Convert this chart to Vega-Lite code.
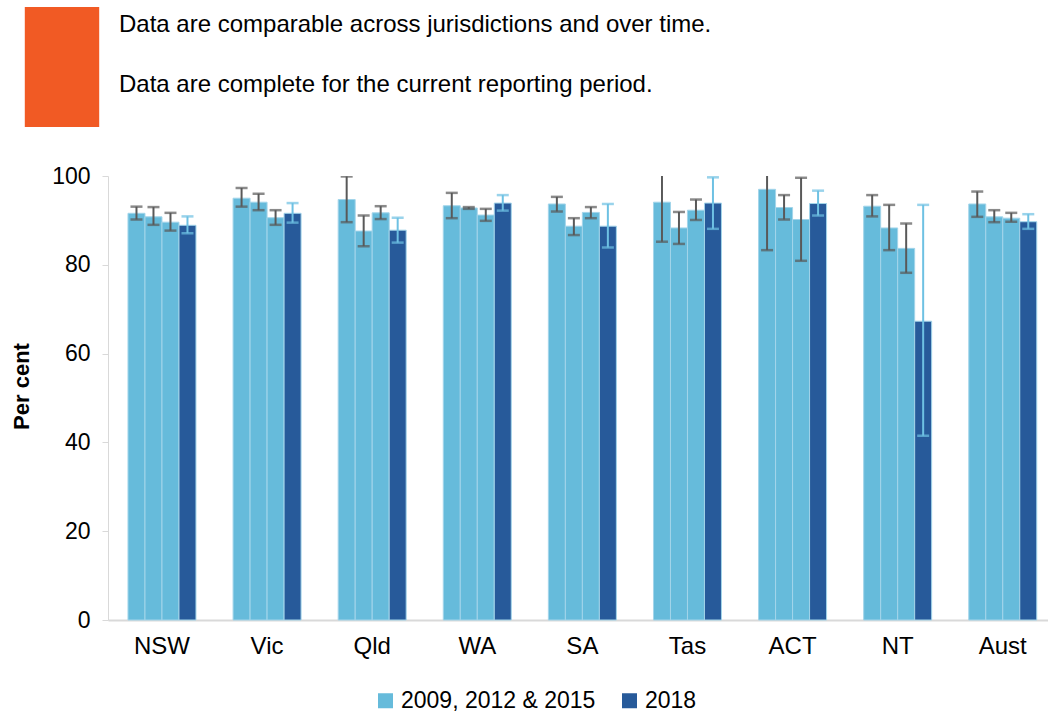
{
  "$schema": "https://vega.github.io/schema/vega-lite/v6.json",
  "autosize": {"type": "none"},
  "width": 940,
  "height": 444,
  "padding": {"left": 108, "top": 176, "right": 0, "bottom": 92},
  "background": "white",
  "config": {"view": {"stroke": null}, "font": "Liberation Sans"},
  "datasets": {
    "results": [
      {"jurisdiction": "NSW", "year": "2009", "series": "2009, 2012 & 2015", "value": 91.6, "lower": 90.2, "upper": 93.1},
      {"jurisdiction": "NSW", "year": "2012", "series": "2009, 2012 & 2015", "value": 90.8, "lower": 89.0, "upper": 93.0},
      {"jurisdiction": "NSW", "year": "2015", "series": "2009, 2012 & 2015", "value": 89.6, "lower": 87.7, "upper": 91.7},
      {"jurisdiction": "NSW", "year": "2018", "series": "2018", "value": 88.9, "lower": 87.1, "upper": 90.9},
      {"jurisdiction": "Vic", "year": "2009", "series": "2009, 2012 & 2015", "value": 95.0, "lower": 93.1, "upper": 97.3},
      {"jurisdiction": "Vic", "year": "2012", "series": "2009, 2012 & 2015", "value": 94.1, "lower": 92.3, "upper": 96.0},
      {"jurisdiction": "Vic", "year": "2015", "series": "2009, 2012 & 2015", "value": 90.6, "lower": 89.0, "upper": 92.3},
      {"jurisdiction": "Vic", "year": "2018", "series": "2018", "value": 91.6, "lower": 89.5, "upper": 93.9},
      {"jurisdiction": "Qld", "year": "2009", "series": "2009, 2012 & 2015", "value": 94.7, "lower": 89.6, "upper": 99.9},
      {"jurisdiction": "Qld", "year": "2012", "series": "2009, 2012 & 2015", "value": 87.6, "lower": 84.2, "upper": 91.1},
      {"jurisdiction": "Qld", "year": "2015", "series": "2009, 2012 & 2015", "value": 91.7, "lower": 90.3, "upper": 93.2},
      {"jurisdiction": "Qld", "year": "2018", "series": "2018", "value": 87.8, "lower": 85.0, "upper": 90.6},
      {"jurisdiction": "WA", "year": "2009", "series": "2009, 2012 & 2015", "value": 93.3, "lower": 90.5, "upper": 96.2},
      {"jurisdiction": "WA", "year": "2012", "series": "2009, 2012 & 2015", "value": 92.8, "lower": 92.6, "upper": 93.0},
      {"jurisdiction": "WA", "year": "2015", "series": "2009, 2012 & 2015", "value": 91.2, "lower": 89.9, "upper": 92.6},
      {"jurisdiction": "WA", "year": "2018", "series": "2018", "value": 93.9, "lower": 92.2, "upper": 95.7},
      {"jurisdiction": "SA", "year": "2009", "series": "2009, 2012 & 2015", "value": 93.7, "lower": 92.0, "upper": 95.3},
      {"jurisdiction": "SA", "year": "2012", "series": "2009, 2012 & 2015", "value": 88.7, "lower": 86.7, "upper": 90.5},
      {"jurisdiction": "SA", "year": "2015", "series": "2009, 2012 & 2015", "value": 91.8, "lower": 90.5, "upper": 93.0},
      {"jurisdiction": "SA", "year": "2018", "series": "2018", "value": 88.7, "lower": 83.9, "upper": 93.7},
      {"jurisdiction": "Tas", "year": "2009", "series": "2009, 2012 & 2015", "value": 94.1, "lower": 85.2, "upper": 103.0},
      {"jurisdiction": "Tas", "year": "2012", "series": "2009, 2012 & 2015", "value": 88.3, "lower": 84.7, "upper": 91.9},
      {"jurisdiction": "Tas", "year": "2015", "series": "2009, 2012 & 2015", "value": 92.3, "lower": 90.1, "upper": 94.7},
      {"jurisdiction": "Tas", "year": "2018", "series": "2018", "value": 93.9, "lower": 88.1, "upper": 99.7},
      {"jurisdiction": "ACT", "year": "2009", "series": "2009, 2012 & 2015", "value": 97.0, "lower": 83.3, "upper": 103.0},
      {"jurisdiction": "ACT", "year": "2012", "series": "2009, 2012 & 2015", "value": 92.9, "lower": 90.2, "upper": 95.7},
      {"jurisdiction": "ACT", "year": "2015", "series": "2009, 2012 & 2015", "value": 90.2, "lower": 80.9, "upper": 99.6},
      {"jurisdiction": "ACT", "year": "2018", "series": "2018", "value": 93.8, "lower": 91.1, "upper": 96.7},
      {"jurisdiction": "NT", "year": "2009", "series": "2009, 2012 & 2015", "value": 93.2, "lower": 90.9, "upper": 95.7},
      {"jurisdiction": "NT", "year": "2012", "series": "2009, 2012 & 2015", "value": 88.3, "lower": 83.3, "upper": 93.5},
      {"jurisdiction": "NT", "year": "2015", "series": "2009, 2012 & 2015", "value": 83.7, "lower": 78.2, "upper": 89.3},
      {"jurisdiction": "NT", "year": "2018", "series": "2018", "value": 67.3, "lower": 41.5, "upper": 93.5},
      {"jurisdiction": "Aust", "year": "2009", "series": "2009, 2012 & 2015", "value": 93.7, "lower": 90.8, "upper": 96.5},
      {"jurisdiction": "Aust", "year": "2012", "series": "2009, 2012 & 2015", "value": 90.8, "lower": 89.6, "upper": 92.3},
      {"jurisdiction": "Aust", "year": "2015", "series": "2009, 2012 & 2015", "value": 90.5, "lower": 89.7, "upper": 91.7},
      {"jurisdiction": "Aust", "year": "2018", "series": "2018", "value": 89.7, "lower": 88.1, "upper": 91.4}
    ],
    "notes": [
      {"note": "Data are comparable across jurisdictions and over time."},
      {"note": "Data are complete for the current reporting period."}
    ]
  },
  "layer": [
    {
      "data": {"name": "results"},
      "mark": {"type": "bar", "stroke": "#a3d5ea", "strokeWidth": 1},
      "encoding": {
        "x": {
          "field": "jurisdiction", "type": "nominal",
          "sort": ["NSW", "Vic", "Qld", "WA", "SA", "Tas", "ACT", "NT", "Aust"],
          "scale": {"paddingInner": 0.353, "paddingOuter": 0.1485, "align": 0.64},
          "axis": {
            "title": null, "labelAngle": 0, "ticks": false, "domainColor": "#d9d9d9", "domainWidth": 2,
            "labelFontSize": 24, "labelColor": "#000000", "labelPadding": 14, "labelFont": "Liberation Sans"
          }
        },
        "xOffset": {"field": "year", "type": "nominal", "sort": ["2009", "2012", "2015", "2018"], "scale": {"paddingInner": 0, "paddingOuter": 0}},
        "y": {
          "field": "value", "type": "quantitative",
          "scale": {"domain": [0, 100], "nice": false},
          "axis": {
            "title": "Per cent", "titleFontSize": 22, "titleFontWeight": "bold", "titleColor": "#000000", "titleFont": "Liberation Sans", "titlePadding": 18, "titleY": 210,
            "values": [0, 20, 40, 60, 80, 100], "grid": false, "domainColor": "#d9d9d9", "tickColor": "#d9d9d9", "tickSize": 6,
            "labelFontSize": 23, "labelColor": "#000000", "labelPadding": 12, "labelFont": "Liberation Sans"
          }
        },
        "color": {
          "field": "series", "type": "nominal",
          "scale": {"domain": ["2009, 2012 & 2015", "2018"], "range": ["#66bbdb", "#275a9a"]},
          "legend": {
            "orient": "none", "legendX": 266, "legendY": 513, "direction": "horizontal", "title": null,
            "symbolType": "square", "symbolSize": 225, "symbolStrokeWidth": 0, "labelFontSize": 23, "labelColor": "#000000",
            "labelOffset": 4, "columnPadding": 22, "labelFont": "Liberation Sans", "labelLimit": 400,
            "encode": {"symbols": {"update": {"strokeWidth": {"value": 0}}}}
          }
        }
      }
    },
    {
      "data": {"name": "results"},
      "mark": {"type": "rule", "strokeWidth": 2, "clip": true},
      "encoding": {
        "x": {"field": "jurisdiction", "type": "nominal", "sort": ["NSW", "Vic", "Qld", "WA", "SA", "Tas", "ACT", "NT", "Aust"]},
        "xOffset": {"field": "year", "type": "nominal", "sort": ["2009", "2012", "2015", "2018"]},
        "y": {"field": "lower", "type": "quantitative"},
        "y2": {"field": "upper"},
        "stroke": {"field": "series", "type": "nominal", "scale": {"domain": ["2009, 2012 & 2015", "2018"], "range": ["#595959", "#6ec1e3"]}, "legend": null}
      }
    },
    {
      "data": {"name": "results"},
      "mark": {"type": "tick", "thickness": 2.5, "size": 12, "clip": true},
      "encoding": {
        "x": {"field": "jurisdiction", "type": "nominal", "sort": ["NSW", "Vic", "Qld", "WA", "SA", "Tas", "ACT", "NT", "Aust"]},
        "xOffset": {"field": "year", "type": "nominal", "sort": ["2009", "2012", "2015", "2018"]},
        "y": {"field": "lower", "type": "quantitative"},
        "fill": {"field": "series", "type": "nominal", "scale": {"domain": ["2009, 2012 & 2015", "2018"], "range": ["#595959", "#6ec1e3"]}, "legend": null}
      }
    },
    {
      "data": {"name": "results"},
      "mark": {"type": "tick", "thickness": 2.5, "size": 12, "clip": true},
      "encoding": {
        "x": {"field": "jurisdiction", "type": "nominal", "sort": ["NSW", "Vic", "Qld", "WA", "SA", "Tas", "ACT", "NT", "Aust"]},
        "xOffset": {"field": "year", "type": "nominal", "sort": ["2009", "2012", "2015", "2018"]},
        "y": {"field": "upper", "type": "quantitative"},
        "fill": {"field": "series", "type": "nominal", "scale": {"domain": ["2009, 2012 & 2015", "2018"], "range": ["#595959", "#6ec1e3"]}, "legend": null}
      }
    },
    {
      "data": {"name": "notes"},
      "mark": {"type": "point", "filled": true, "color": "#f15a24", "opacity": 0},
      "encoding": {
        "shape": {
          "field": "note", "type": "nominal", "sort": null,
          "scale": {"range": ["M-1.24,-1H1.24V1H-1.24Z", "M-1.24,-1H1.24V1H-1.24Z"]},
          "legend": {
            "orient": "none", "legendX": -76, "legendY": -169, "direction": "vertical", "title": null,
            "rowPadding": 0, "symbolSize": 3600, "symbolStrokeWidth": 0, "symbolFillColor": "#f15a24", "symbolOpacity": 1,
            "labelFontSize": 24, "labelColor": "#000000", "labelOffset": 27, "labelBaseline": "bottom", "labelLimit": 900, "labelFont": "Liberation Sans",
            "encode": {"symbols": {"update": {"opacity": {"value": 1}, "fill": {"value": "#f15a24"}, "stroke": {"value": "#f15a24"}, "strokeWidth": {"value": 0}}}}
          }
        }
      }
    }
  ]
}
